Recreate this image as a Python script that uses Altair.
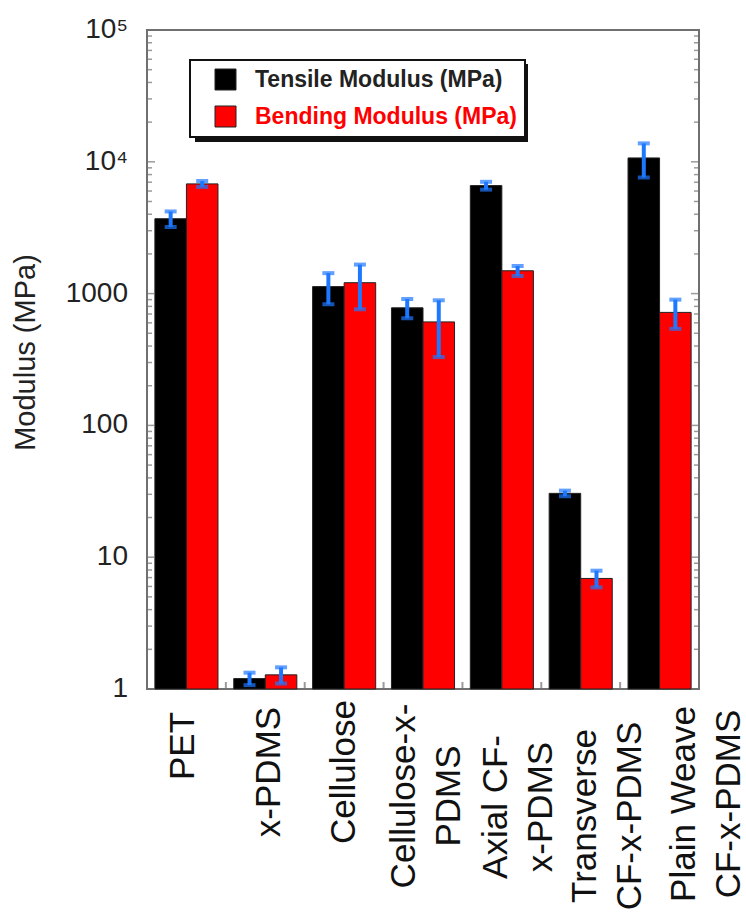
import json
import altair as alt
import pandas as pd

# ---------------- data ----------------
groups = ["PET", "x-PDMS", "Cellulose", "Cellulose-x-PDMS",
          "Axial CF-x-PDMS", "Transverse CF-x-PDMS", "Plain Weave CF-x-PDMS"]
group_label_lines = [["PET"], ["x-PDMS"], ["Cellulose"], ["Cellulose-x-", "PDMS"],
                     ["Axial CF-", "x-PDMS"], ["Transverse", "CF-x-PDMS"],
                     ["Plain Weave", "CF-x-PDMS"]]
series = ["Tensile Modulus (MPa)", "Bending Modulus (MPa)"]
tensile = [3700, 1.2, 1130, 780, 6600, 30.5, 10700]
tensile_err = [500, 0.13, 300, 130, 450, 1.5, 3100]
bending = [6800, 1.28, 1210, 610, 1490, 6.9, 720]
bending_err = [350, 0.18, 450, 280, 130, 1.0, 180]
y_major = [1, 10, 100, 1000, 10000, 100000]
y_major_labels = ["1", "10", "100", "1000", "10⁴", "10⁵"]
y_minor = [m * d for d in [1, 10, 100, 1000, 10000] for m in range(2, 10)]
y_title = "Modulus (MPa)"

# label placement (style): distance below axis and sideways shift of each label
label_pad = [57, 83, 83, 107, 118, 127, 115]
label_shift = [-3, 4, 0, -19, -6, 4, 24]

df = pd.DataFrame({
    "group": groups * 2,
    "series": [series[0]] * len(groups) + [series[1]] * len(groups),
    "value": tensile + bending,
    "err": tensile_err + bending_err,
})
df["lo"] = df["value"] - df["err"]
df["hi"] = df["value"] + df["err"]

labels_df = pd.DataFrame({"group": groups,
                          "label": ["\n".join(lines) for lines in group_label_lines]})
ylab_df = pd.DataFrame({"v": y_major, "t": y_major_labels})

FONT = "Liberation Sans"
W, H = 552, 659
BLUE = "#1e78ff"
FRAME = "#707070"
STEP = W / len(groups)


def case_expr(field, keys, vals, default):
    expr = default
    for k, v in reversed(list(zip(keys, vals))):
        expr = f"{field} == {json.dumps(k)} ? {json.dumps(v, ensure_ascii=False)} : ({expr})"
    return expr


# rotated text: dx runs along the text (screen up), dy across it (screen right)
lab_dx_expr = case_expr("datum.group", groups, [-p for p in label_pad], "-60")
lab_dy_expr = case_expr("datum.group", groups, label_shift, "0")
legend_color_expr = f"datum.value == {json.dumps(series[1])} ? '#ff0000' : '#222222'"

x_scale = alt.Scale(domain=groups, paddingInner=0.2, paddingOuter=0.1)
y_scale = alt.Scale(type="log", domain=[1, 100000], nice=False)
off_scale = alt.Scale(domain=series, paddingInner=0, paddingOuter=0)

base = alt.Chart(df)

bars = base.mark_bar(stroke="#222222", strokeWidth=1).encode(
    x=alt.X("group:N", scale=x_scale, sort=groups, axis=None),
    xOffset=alt.XOffset("series:N", scale=off_scale, sort=series),
    y=alt.Y("value:Q", scale=y_scale, axis=None),
    y2=alt.datum(1),
    color=alt.Color("series:N", scale=alt.Scale(domain=series, range=["#000000", "#ff0000"]),
                    legend=alt.Legend(
                        title=None, orient="none", legendX=43, legendY=30, direction="vertical",
                        fillColor="white", strokeColor="#111111", padding=8,
                        symbolType="square", symbolSize=441, symbolOffset=16,
                        symbolStrokeColor="#222222", symbolStrokeWidth=1,
                        labelOffset=18, rowPadding=12, labelFont=FONT, labelFontSize=23,
                        labelFontWeight="bold", labelLimit=0,
                        labelColor={"expr": legend_color_expr})),
)

err_rule = base.mark_rule(color=BLUE, strokeWidth=4).encode(
    x=alt.X("group:N", scale=x_scale, sort=groups, axis=None),
    xOffset=alt.XOffset("series:N", scale=off_scale, sort=series),
    y=alt.Y("lo:Q", scale=y_scale, axis=None),
    y2="hi:Q",
)
cap_lo = base.mark_tick(color=BLUE, thickness=4, size=12).encode(
    x=alt.X("group:N", scale=x_scale, sort=groups, axis=None),
    xOffset=alt.XOffset("series:N", scale=off_scale, sort=series),
    y=alt.Y("lo:Q", scale=y_scale, axis=None),
)
cap_hi = base.mark_tick(color=BLUE, thickness=4, size=12).encode(
    x=alt.X("group:N", scale=x_scale, sort=groups, axis=None),
    xOffset=alt.XOffset("series:N", scale=off_scale, sort=series),
    y=alt.Y("hi:Q", scale=y_scale, axis=None),
)

# category labels under the plot (rotated, multi-line)
x_labels = alt.Chart(labels_df).mark_text(
    angle=270, align="center", baseline="middle", font=FONT, fontSize=35,
    lineHeight=45, lineBreak="\n", color="#111111",
    dx={"expr": lab_dx_expr}, dy={"expr": lab_dy_expr}).encode(
    x=alt.X("group:N", scale=x_scale, sort=groups, axis=None),
    y=alt.value(H),
    text="label:N",
)

# y tick labels, placed through the log scale
y_labels = alt.Chart(ylab_df).mark_text(
    align="right", baseline="middle", font=FONT, fontSize=28, color="#222222").encode(
    y=alt.Y("v:Q", scale=y_scale, axis=None),
    x=alt.value(-19),
    text="t:N",
)

y_title_text = alt.Chart(pd.DataFrame({"t": [y_title]})).mark_text(
    angle=270, align="center", baseline="middle", font=FONT, fontSize=29,
    color="#222222").encode(
    x=alt.value(-121), y=alt.value(H / 2 - 7), text="t:N")


# inward axis ticks (frame decoration), placed through the y scale
def ytick_marks(vals, length, side):
    xc = length / 2 if side == "left" else W - length / 2
    return alt.Chart(pd.DataFrame({"v": vals})).mark_tick(
        color=FRAME, orient="horizontal", size=length, thickness=1.5).encode(
        y=alt.Y("v:Q", scale=y_scale, axis=None),
        x=alt.value(xc))


xtick_marks = alt.Chart(pd.DataFrame({"group": groups})).mark_tick(
    color=FRAME, orient="vertical", size=7, thickness=2, xOffset=-STEP * 0.1).encode(
    x=alt.X("group:N", scale=x_scale, sort=groups, axis=None, bandPosition=0),
    y=alt.value(H - 3.5))

shadow = alt.Chart(pd.DataFrame({"k": [0]})).mark_rect(color="#111111").encode(
    x=alt.value(48), x2=alt.value(381), y=alt.value(34), y2=alt.value(112))

chart = alt.layer(
    shadow, bars, err_rule, cap_lo, cap_hi,
    ytick_marks(y_major, 8, "left"), ytick_marks(y_minor, 5, "left"),
    ytick_marks(y_major, 8, "right"), ytick_marks(y_minor, 5, "right"),
    xtick_marks, x_labels, y_labels, y_title_text,
).properties(
    width=W, height=H,
    autosize=alt.AutoSizeParams(type="none"),
    padding={"left": 147, "top": 30, "right": 47, "bottom": 229},
    background="white",
).configure_view(stroke=FRAME, strokeWidth=2).configure_legend(strokeWidth=2)

chart.save("out.html", embed_options={"renderer": "svg", "actions": False})
